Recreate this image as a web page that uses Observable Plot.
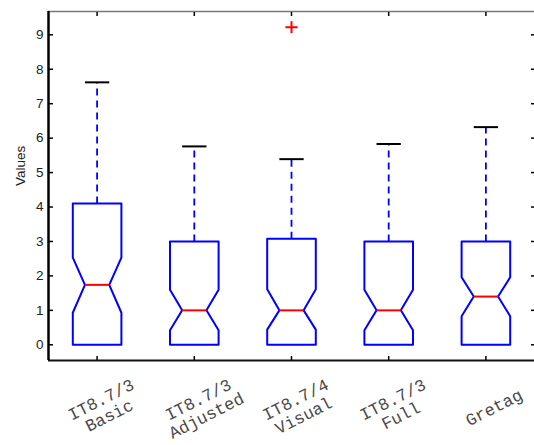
<!DOCTYPE html>
<html>
<head>
<meta charset="utf-8">
<script src="https://cdn.jsdelivr.net/npm/d3@7"></script>
<script src="https://cdn.jsdelivr.net/npm/@observablehq/plot@0.6"></script>
<style>
  html, body { margin: 0; padding: 0; background: #fff; }
</style>
</head>
<body>
<div id="chart"></div>
<script>
// ---- data ----
const categories = ["IT8.7/3\nBasic", "IT8.7/3\nAdjusted", "IT8.7/4\nVisual", "IT8.7/3\nFull", "Gretag"];
const q1 = [0, 0, 0, 0, 0];
const q3 = [4.1, 3.0, 3.08, 3.0, 3.0];
const median = [1.74, 1.0, 1.0, 1.0, 1.4];
const notchLo = [0.93, 0.42, 0.44, 0.42, 0.83];
const notchHi = [2.53, 1.6, 1.61, 1.6, 1.96];
const whiskerHi = [7.62, 5.76, 5.39, 5.83, 6.32];
const outlierBox = [3];
const outlierValue = [9.22];
const yTicks = [0, 1, 2, 3, 4, 5, 6, 7, 8, 9];

// ---- derived tables ----
const W = 0.25;   // box half width (x units)
const NW = 0.125; // notch half width
const CW = 0.125; // cap half width
const boxes = categories.map((c, i) => ({
  i: i + 1, label: c, q1: q1[i], q3: q3[i], med: median[i],
  lo: notchLo[i], hi: notchHi[i], top: whiskerHi[i]
}));
const poly = [];
for (const b of boxes) {
  const c = b.i;
  const pts = [
    [c - W, b.q1], [c + W, b.q1], [c + W, b.lo], [c + NW, b.med], [c + W, b.hi],
    [c + W, b.q3], [c - W, b.q3], [c - W, b.hi], [c - NW, b.med], [c - W, b.lo]
  ];
  for (const [x, y] of pts) poly.push({box: c, x, y});
}
const outliers = outlierBox.map((b, k) => ({x: b, y: outlierValue[k]}));
const positions = boxes.map(b => b.i);
const yMin = -0.456, yMax = 9.677;

const chart = Plot.plot({
  width: 534,
  height: 445,
  marginLeft: 48,
  marginRight: 0,
  marginTop: 11,
  marginBottom: 85,
  style: {fontFamily: "Liberation Sans, Arial, sans-serif", fontSize: "13px", background: "white", overflow: "visible", color: "#222"},
  x: {domain: [0.5, 5.5], axis: null},
  y: {domain: [yMin, yMax], axis: null},
  marks: [
    // spines
    Plot.ruleY([yMax], {stroke: "#777", strokeWidth: 1.5}),
    Plot.ruleY([yMin], {stroke: "#111", strokeWidth: 2}),
    Plot.ruleX([0.5], {stroke: "#000", strokeWidth: 2.5}),
    // axes (inward ticks)
    Plot.axisY({anchor: "left", ticks: yTicks, tickSize: -5, tickPadding: 10, tickFormat: d => String(d), stroke: "#000", strokeWidth: 1.5, fill: "#222", fontSize: 13.5, label: null}),
    Plot.axisY({anchor: "right", ticks: yTicks, tickSize: -4, tickFormat: () => "", stroke: "#000", strokeWidth: 1.5, label: null}),
    Plot.axisX({anchor: "top", ticks: positions, tickSize: -4, tickFormat: () => "", stroke: "#000", strokeWidth: 1.5, label: null}),
    Plot.axisX({anchor: "bottom", ticks: positions, tickSize: -4, tickFormat: () => "", stroke: "#000", strokeWidth: 1.5, label: null}),
    // y label
    Plot.text(["Values"], {frameAnchor: "left", dx: -28, rotate: -90, fontSize: 13.5, fill: "#222", fontFamily: "Liberation Sans, Arial, sans-serif"}),
    // whiskers
    Plot.link(boxes, {x1: "i", x2: "i", y1: "q3", y2: "top", stroke: "blue", strokeWidth: 1.8, strokeDasharray: "7,5"}),
    Plot.link(boxes, {x1: d => d.i - CW, x2: d => d.i + CW, y1: "top", y2: "top", stroke: "#000", strokeWidth: 2}),
    // notched boxes
    Plot.line(poly, {x: "x", y: "y", z: "box", curve: "linear-closed", stroke: "blue", strokeWidth: 2}),
    // medians
    Plot.link(boxes, {x1: d => d.i - NW, x2: d => d.i + NW, y1: "med", y2: "med", stroke: "red", strokeWidth: 2}),
    // outliers
    Plot.dot(outliers, {x: "x", y: "y", symbol: "plus", stroke: "red", r: 4, strokeWidth: 2}),
    // category labels
    Plot.text(boxes, {x: "i", text: "label", frameAnchor: "bottom", dy: 47, dx: 8, rotate: -27,
      fontFamily: "Liberation Mono, Courier New, monospace", fontSize: 17, fill: "#4a4a4a",
      textAnchor: "middle", lineAnchor: "middle", lineHeight: 1.05})
  ]
});
document.getElementById("chart").appendChild(chart);
</script>
</body>
</html>
